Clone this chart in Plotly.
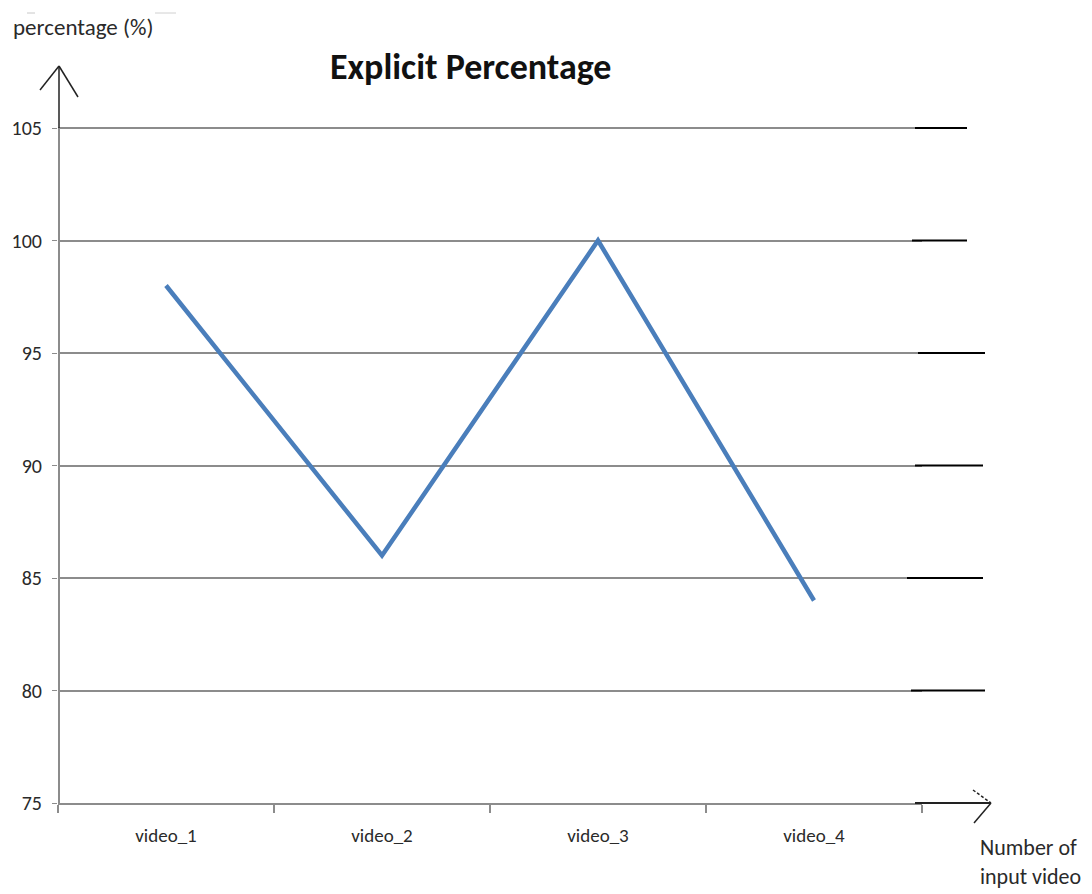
import plotly.graph_objects as go

# Chart data
videos = ["video_1", "video_2", "video_3", "video_4"]
explicit_pct = [98, 86, 100, 84]
y_ticks = [75, 80, 85, 90, 95, 100, 105]

W, H = 1092, 894
L, R, T, B = 58, 170, 120, 91
PW, PH = W - L - R, H - T - B
UNIT = 22.5                      # pixels per percentage point
Y_TOP = 75 + PH / UNIT

def px(x):
    return (x - L) / PW

def py(y):
    return (H - B - y) / PH

FONT = "Carlito, 'Liberation Sans', sans-serif"

fig = go.Figure()
fig.add_trace(go.Scatter(
    x=videos, y=explicit_pct, mode="lines",
    line=dict(color="#4A7EBB", width=4.5),
    showlegend=False, hoverinfo="skip",
))

shapes = []
# hand-drawn black extensions of the gridlines past the plot edge
ext_start = [915, 912, 918, 915, 907, 911]
ext_end = [967, 967, 985, 983, 983, 985]
for v, x0, x1 in zip(y_ticks[::-1][:6], ext_start, ext_end):
    shapes.append(dict(type="line", xref="paper", yref="y",
                       x0=px(x0), x1=px(x1), y0=v, y1=v,
                       line=dict(color="black", width=2)))

# cover the gridline stub above the last tick
shapes.append(dict(type="rect", xref="paper", yref="paper", x0=px(59), x1=1,
                   y0=py(122), y1=1, line=dict(width=0), fillcolor="white",
                   layer="above"))

# x axis arrow
shapes += [
    dict(type="line", xref="paper", yref="paper", x0=px(915), x1=px(991),
         y0=py(803), y1=py(803), line=dict(color="#222", width=2)),
    dict(type="line", xref="paper", yref="paper", x0=px(973), x1=px(991),
         y0=py(790), y1=py(803), line=dict(color="#222", width=1.5, dash="3px,2px")),
    dict(type="line", xref="paper", yref="paper", x0=px(974), x1=px(991),
         y0=py(823), y1=py(803), line=dict(color="#222", width=1.5)),
]
# y axis arrow
shapes += [
    dict(type="line", xref="paper", yref="paper", x0=px(59), x1=px(59),
         y0=py(155), y1=py(66), line=dict(color="#222", width=1.5)),
    dict(type="line", xref="paper", yref="paper", x0=px(40), x1=px(59),
         y0=py(90), y1=py(66), line=dict(color="#222", width=1.5)),
    dict(type="line", xref="paper", yref="paper", x0=px(78), x1=px(59),
         y0=py(97), y1=py(66), line=dict(color="#222", width=1.5)),
]
# faint pen strokes near the axis label
shapes += [
    dict(type="line", xref="paper", yref="paper", x0=px(27), x1=px(35),
         y0=py(13), y1=py(13), line=dict(color="#c8c8c8", width=1)),
    dict(type="line", xref="paper", yref="paper", x0=px(155), x1=px(176),
         y0=py(13), y1=py(13), line=dict(color="#d0d0d0", width=1)),
]

annotations = [
    dict(text="<b>Explicit Percentage</b>", xref="paper", yref="paper",
         x=px(471), y=py(67), xanchor="center", yanchor="middle", showarrow=False,
         font=dict(family=FONT, size=36, color="#111")),
    dict(text="percentage (%)", xref="paper", yref="paper",
         x=px(11), y=py(27), xanchor="left", yanchor="middle", showarrow=False,
         font=dict(family=FONT, size=23, color="#2a2a2a")),
    dict(text="Number of<br>input video", xref="paper", yref="paper",
         x=px(978), y=py(862), xanchor="left", yanchor="middle", align="left",
         showarrow=False,
         font=dict(family=FONT, size=22, color="#2a2a2a")),
]

fig.update_layout(
    width=W, height=H,
    margin=dict(l=L, r=R, t=T, b=B),
    paper_bgcolor="white", plot_bgcolor="white",
    shapes=shapes, annotations=annotations,
    xaxis=dict(
        type="category", range=[-0.5, 3.5],
        showgrid=False, showline=True, linecolor="#8c8c8c", linewidth=2,
        ticks="outside", tickson="boundaries", ticklen=8,
        tickcolor="#8c8c8c", tickwidth=1.5, ticklabelstandoff=14,
        tickfont=dict(family=FONT, size=19, color="#2a2a2a"),
    ),
    yaxis=dict(
        range=[75, Y_TOP], tickvals=y_ticks,
        showgrid=True, gridcolor="#8c8c8c", gridwidth=2,
        showline=False,
        ticks="outside", ticklen=5, tickcolor="#8c8c8c", ticklabelstandoff=6,
        zeroline=False,
        tickfont=dict(family=FONT, size=20, color="#2a2a2a"),
    ),
)

# y axis line from the baseline up to the last gridline
fig.add_shape(type="line", xref="paper", yref="y", x0=px(59), x1=px(59),
              y0=75, y1=105, line=dict(color="#8c8c8c", width=2))

fig.write_html("out.html", config={"displayModeBar": False})
